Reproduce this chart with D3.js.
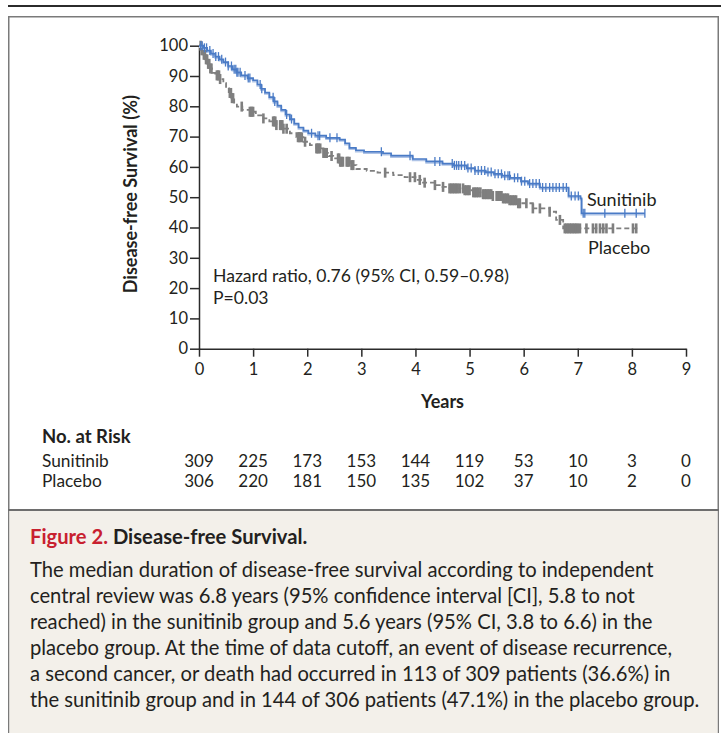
<!DOCTYPE html>
<html>
<head>
<meta charset="utf-8">
<script src="https://cdn.jsdelivr.net/npm/d3@7"></script>
<style>
  html, body { margin: 0; padding: 0; background: #fff; }
  svg { display: block; font-family: Lato, "Open Sans", sans-serif; }
  text { fill: #231f20; }
</style>
</head>
<body>
<div class="canvas"></div>
<script>
const [width, height] = [721, 733];

// Kaplan-Meier steps (years, % disease-free)
const sunTimes = [0, 0.08, 0.15, 0.22, 0.30, 0.38, 0.45, 0.54, 0.62, 0.70, 0.78, 0.90, 1.00, 1.08, 1.15, 1.22, 1.30, 1.38, 1.45, 1.52, 1.60, 1.68, 1.76, 1.84, 1.93, 2.02, 2.15, 2.35, 2.60, 2.70, 2.78, 2.90, 3.05, 3.40, 3.55, 3.95, 4.20, 4.50, 4.70, 4.95, 5.10, 5.30, 5.45, 5.60, 5.75, 5.95, 6.08, 6.30, 6.83, 7.05, 7.07];
const sunSurv  = [100, 99.3, 98.4, 97.4, 96.4, 95.5, 94.6, 93.3, 92.2, 91.2, 90.2, 89.3, 88.6, 87.2, 85.8, 84.5, 83.0, 81.6, 80.2, 78.8, 77.3, 75.8, 74.3, 73.0, 72.0, 71.1, 70.3, 69.6, 69.0, 67.8, 66.3, 65.5, 65.0, 64.5, 63.7, 62.6, 61.8, 61.1, 60.5, 59.6, 58.8, 58.3, 57.7, 57.1, 56.4, 55.3, 54.5, 53.2, 50.4, 49.6, 44.7];
const sunEnd = 8.24;
const sunCensor = [0.03, 0.06, 0.10, 0.14, 0.20, 0.26, 0.31, 0.36, 0.42, 0.49, 0.54, 0.60, 0.65, 0.68, 0.70, 0.72, 0.76, 0.85, 0.91, 0.94, 1.13, 1.16, 1.37, 1.40, 1.62, 1.71, 2.08, 2.20, 2.23, 2.42, 2.55, 3.37, 3.90, 4.36, 4.45, 4.68, 4.72, 4.76, 4.80, 4.85, 4.91, 4.97, 5.03, 5.10, 5.16, 5.22, 5.28, 5.34, 5.40, 5.47, 5.53, 5.59, 5.65, 5.71, 5.74, 5.83, 5.89, 5.96, 6.02, 6.11, 6.17, 6.23, 6.29, 6.35, 6.41, 6.48, 6.54, 6.60, 6.66, 6.73, 6.79, 6.88, 6.95, 7.01, 7.10, 7.13, 7.50, 7.87, 8.08, 8.24];

const plaTimes = [0, 0.04, 0.08, 0.12, 0.16, 0.20, 0.24, 0.30, 0.38, 0.45, 0.50, 0.55, 0.60, 0.65, 0.70, 0.80, 0.94, 1.05, 1.19, 1.30, 1.43, 1.55, 1.68, 1.80, 1.93, 2.05, 2.17, 2.30, 2.40, 2.48, 2.60, 2.79, 2.91, 3.10, 3.30, 3.59, 3.80, 4.00, 4.14, 4.35, 4.50, 4.63, 4.90, 5.07, 5.25, 5.43, 5.60, 5.74, 5.90, 6.17, 6.48, 6.60, 6.73];
const plaSurv  = [100, 98.5, 97.0, 95.5, 94.0, 92.5, 91.0, 90.2, 89.0, 87.6, 86.0, 84.4, 82.7, 81.2, 79.9, 78.8, 78.2, 77.0, 76.0, 75.0, 73.8, 72.6, 71.1, 69.8, 68.3, 67.2, 66.1, 64.6, 63.6, 62.8, 61.7, 60.6, 59.3, 58.7, 58.1, 57.3, 56.6, 55.7, 54.8, 54.0, 53.4, 52.9, 52.3, 51.6, 51.0, 50.4, 49.6, 49.0, 48.0, 46.3, 45.2, 42.5, 39.7];
const plaEnd = 8.11;
const plaCensor = [0.03, 0.05, 0.07, 0.09, 0.11, 0.13, 0.15, 0.17, 0.19, 0.21, 0.23, 0.33, 0.35, 0.37, 0.39, 0.57, 0.59, 0.61, 0.63, 0.79, 0.94, 0.96, 0.98, 1.00, 1.19, 1.37, 1.39, 1.41, 1.43, 1.50, 1.52, 1.54, 1.56, 1.62, 1.83, 1.85, 1.87, 1.90, 1.96, 2.17, 2.19, 2.21, 2.24, 2.30, 2.32, 2.34, 2.36, 2.45, 2.57, 2.59, 2.61, 2.63, 2.66, 2.73, 2.75, 2.78, 2.82, 2.85, 3.44, 3.90, 3.99, 4.08, 4.17, 4.36, 4.51, 4.63, 4.66, 4.69, 4.72, 4.75, 4.78, 4.82, 4.88, 4.91, 4.94, 4.97, 5.00, 5.07, 5.10, 5.13, 5.16, 5.20, 5.25, 5.28, 5.31, 5.34, 5.37, 5.40, 5.43, 5.50, 5.53, 5.56, 5.59, 5.62, 5.65, 5.68, 5.71, 5.74, 5.77, 5.80, 5.83, 5.86, 5.90, 5.93, 6.05, 6.17, 6.30, 6.48, 6.67, 6.76, 6.79, 6.82, 6.85, 6.88, 6.91, 6.94, 6.97, 7.00, 7.04, 7.16, 7.28, 7.34, 7.41, 7.47, 7.53, 7.65, 8.02, 8.08];

const yearTicks = [0, 1, 2, 3, 4, 5, 6, 7, 8, 9];
const survTicks = [0, 10, 20, 30, 40, 50, 60, 70, 80, 90, 100];
const riskSun = [309, 225, 173, 153, 144, 119, 53, 10, 3, 0];
const riskPla = [306, 220, 181, 150, 135, 102, 37, 10, 2, 0];

const captionLines = [
  'The median duration of disease-free survival according to independent',
  'central review was 6.8 years (95% confidence interval [CI], 5.8 to not',
  'reached) in the sunitinib group and 5.6 years (95% CI, 3.8 to 6.6) in the',
  'placebo group. At the time of data cutoff, an event of disease recurrence,',
  'a second cancer, or death had occurred in 113 of 309 patients (36.6%) in',
  'the sunitinib group and in 144 of 306 patients (47.1%) in the placebo group.'
];

const blue = '#4a7bc6', grey = '#7f7f7f';

const svg = d3.select('.canvas')
  .append('svg')
  .attr('width', width)
  .attr('height', height);

// frame + caption panel
svg.append('line').attr('x1', 8).attr('x2', width).attr('y1', 6).attr('y2', 6)
  .attr('stroke', '#2b2b2b').attr('stroke-width', 2);
svg.append('rect').attr('x', 8.75).attr('y', 16.75).attr('width', 709.5).attr('height', 740)
  .attr('fill', '#fff').attr('stroke', '#7a7a7a').attr('stroke-width', 1.5);
svg.append('rect').attr('x', 9.5).attr('y', 510).attr('width', 708).attr('height', 240)
  .attr('fill', '#f3f0ea');
svg.append('line').attr('x1', 8).attr('x2', 719).attr('y1', 510).attr('y2', 510)
  .attr('stroke', '#6e6e6e').attr('stroke-width', 2);

const x = d3.scaleLinear().domain([0, 9]).range([199, 686]);
const y = d3.scaleLinear().domain([0, 100]).range([348.7, 45.7]);

const xAxis = svg.append('g')
  .attr('transform', `translate(0,${y(0)})`)
  .call(d3.axisBottom(x).tickValues(yearTicks).tickSize(8).tickSizeOuter(0).tickPadding(7));
const yAxis = svg.append('g')
  .attr('transform', `translate(${x(0)},0)`)
  .call(d3.axisLeft(y).tickValues(survTicks).tickSize(9).tickSizeOuter(0).tickPadding(2));

[xAxis, yAxis].forEach(g => {
  g.selectAll('path, line').attr('stroke', '#2b2b2b').attr('stroke-width', 1.5);
  g.selectAll('text').attr('font-family', 'Lato, sans-serif').attr('font-size', 16.5).attr('fill', '#231f20');
});

svg.append('text')
  .attr('transform', `translate(137,${y(50) - 3}) rotate(-90)`)
  .attr('text-anchor', 'middle')
  .attr('font-weight', 'bold').attr('font-size', 18)
  .text('Disease-free Survival (%)');

svg.append('text')
  .attr('x', (x(0) + x(9)) / 2).attr('y', 408)
  .attr('text-anchor', 'middle')
  .attr('font-weight', 'bold').attr('font-size', 18)
  .text('Years');

function stepPoints(times, surv, end) {
  const pts = times.map((t, i) => [t, surv[i]]);
  pts.push([end, surv[surv.length - 1]]);
  return pts;
}
function survAt(times, surv, t) {
  let v = surv[0];
  for (let i = 0; i < times.length; i++) if (times[i] <= t) v = surv[i];
  return v;
}

const stepLine = d3.line()
  .x(d => x(d[0]))
  .y(d => y(d[1]))
  .curve(d3.curveStepAfter);

const plaPts = stepPoints(plaTimes, plaSurv, plaEnd);
const sunPts = stepPoints(sunTimes, sunSurv, sunEnd);

// placebo: dashed grey
svg.append('path')
  .attr('d', stepLine(plaPts))
  .attr('fill', 'none')
  .attr('stroke', grey)
  .attr('stroke-width', 1.8)
  .attr('stroke-dasharray', '5,3');

svg.selectAll('rect.pcens')
  .data(plaCensor)
  .enter()
  .append('rect')
  .attr('class', 'pcens')
  .attr('x', d => x(d) - 1.3)
  .attr('y', d => y(survAt(plaTimes, plaSurv, d)) - 5)
  .attr('width', 2.6)
  .attr('height', 10)
  .attr('fill', grey);

// sunitinib: solid blue with a pale edge
svg.append('path')
  .attr('d', stepLine(sunPts))
  .attr('transform', 'translate(0,1.2)')
  .attr('fill', 'none')
  .attr('stroke', '#aec3e6')
  .attr('stroke-width', 2);
svg.append('path')
  .attr('d', stepLine(sunPts))
  .attr('fill', 'none')
  .attr('stroke', blue)
  .attr('stroke-width', 1.7);

svg.selectAll('line.scens')
  .data(sunCensor)
  .enter()
  .append('line')
  .attr('class', 'scens')
  .attr('x1', d => x(d)).attr('x2', d => x(d))
  .attr('y1', d => y(survAt(sunTimes, sunSurv, d)) - 4.5)
  .attr('y2', d => y(survAt(sunTimes, sunSurv, d)) + 4.5)
  .attr('stroke', blue)
  .attr('stroke-width', 1.3);

// labels in the plot
svg.append('text').attr('x', 587).attr('y', 206).attr('font-size', 18).text('Sunitinib');
svg.append('text').attr('x', 588).attr('y', 254).attr('font-size', 18).text('Placebo');

svg.append('text').attr('x', 213).attr('y', 282).attr('font-size', 17.6)
  .text('Hazard ratio, 0.76 (95% CI, 0.59\u20130.98)');
svg.append('text').attr('x', 213).attr('y', 304).attr('font-size', 17.6)
  .text('P=0.03');

// number at risk
svg.append('text').attr('x', 42).attr('y', 443).attr('font-weight', 'bold').attr('font-size', 18.5)
  .text('No. at Risk');
[['Sunitinib', riskSun, 467], ['Placebo', riskPla, 487]].forEach(([name, vals, yy]) => {
  svg.append('text').attr('x', 42).attr('y', yy).attr('font-size', 17.3).text(name);
  svg.selectAll(null)
    .data(vals)
    .enter()
    .append('text')
    .attr('x', (d, i) => x(yearTicks[i]))
    .attr('y', yy)
    .attr('text-anchor', 'middle')
    .attr('font-size', 17)
    .text(d => d);
});

// caption
const title = svg.append('text').attr('x', 30).attr('y', 544).attr('font-size', 20.2).attr('font-weight', 'bold');
title.append('tspan').attr('fill', '#c8202f').style('fill', '#c8202f').text('Figure 2. ');
title.append('tspan').text('Disease-free Survival.');

svg.selectAll('text.cap')
  .data(captionLines)
  .enter()
  .append('text')
  .attr('class', 'cap')
  .attr('x', 30)
  .attr('y', (d, i) => 577 + i * 26)
  .attr('font-size', 20.2)
  .text(d => d);
</script>
</body>
</html>
